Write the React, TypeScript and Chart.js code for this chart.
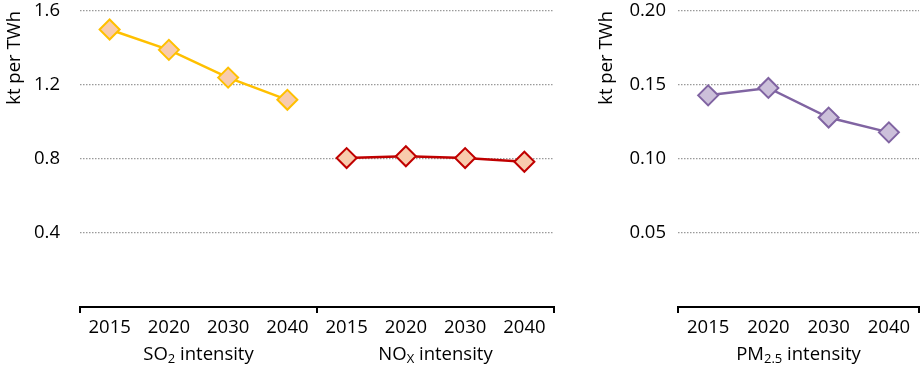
import { useEffect, useRef } from 'react';
import { Chart, registerables } from 'chart.js';

Chart.register(...registerables);

const YEARS = ['2015', '2020', '2030', '2040'];
const LEFT_LABELS = [...YEARS, ...YEARS];
const SO2 = [1.5, 1.39, 1.24, 1.12];
const NOX = [0.805, 0.815, 0.805, 0.785];
const PM25 = [0.143, 0.148, 0.128, 0.118];
const LEFT_MAX = 1.6;
const LEFT_STEP = 0.4;
const RIGHT_MAX = 0.2;
const RIGHT_STEP = 0.05;
const Y_TITLE = 'kt per TWh';
// group titles as [text, isSubscript] parts
const SO2_TITLE: [string, boolean][] = [['SO', false], ['2', true], [' intensity', false]];
const NOX_TITLE: [string, boolean][] = [['NO', false], ['X', true], [' intensity', false]];
const PM_TITLE: [string, boolean][] = [['PM', false], ['2.5', true], [' intensity', false]];

const FONT = 'Open Sans';
const FS = 18.5;

const groupTitlePlugin = {
  id: 'groupTitles',
  afterDraw(chart: any, _args: any, opts: any) {
    const groups = opts.groups || [];
    const x = chart.scales.x;
    const ctx = chart.ctx;
    ctx.save();
    ctx.fillStyle = '#000';
    ctx.textBaseline = 'alphabetic';
    const mainFont = `${FS}px "${FONT}"`;
    const subFont = `${Math.round(FS * 0.68)}px "${FONT}"`;
    for (const g of groups) {
      const cx = (x.getPixelForValue(g.start) + x.getPixelForValue(g.end)) / 2;
      let total = 0;
      for (const [t, sub] of g.parts) {
        ctx.font = sub ? subFont : mainFont;
        total += ctx.measureText(t).width;
      }
      let px = cx - total / 2;
      const baseY = chart.chartArea.bottom + opts.offset;
      for (const [t, sub] of g.parts) {
        ctx.font = sub ? subFont : mainFont;
        ctx.textAlign = 'left';
        ctx.fillText(t, px, baseY + (sub ? FS * 0.18 : 0));
        px += ctx.measureText(t).width;
      }
    }
    ctx.restore();
  },
};

function makeOptions(max: number, step: number, yWidth: number, titlePad: number, tickPad: number, padRight: number, groups: any[]) {
  return {
    responsive: false,
    animation: false as const,
    layout: { autoPadding: false, padding: { top: 11, right: padRight, bottom: 0, left: 0 } },
    plugins: {
      legend: { display: false },
      tooltip: { enabled: false },
      groupTitles: { groups, offset: 53 },
    },
    scales: {
      x: {
        type: 'category' as const,
        offset: true,
        afterFit(s: any) {
          s.height = 58;
          s.paddingLeft = 0;
          s.paddingRight = 0;
        },
        grid: {
          offset: true,
          drawOnChartArea: false,
          drawTicks: true,
          tickLength: 6,
          lineWidth: 2,
          color: (c: any) => (c.index === undefined || c.index % 4 === 0 ? '#000' : 'rgba(0,0,0,0)'),
        },
        border: { display: true, color: '#000', width: 2 },
        ticks: { color: '#000', font: { family: FONT, size: FS }, padding: 4, maxRotation: 0, autoSkip: false },
      },
      y: {
        min: 0,
        max,
        afterFit(s: any) {
          s.width = yWidth;
          s.paddingTop = 0;
          s.paddingBottom = 0;
        },
        grid: {
          drawTicks: false,
          lineWidth: 1.3,
          color: (c: any) => (c.tick && c.tick.value === 0 ? 'rgba(0,0,0,0)' : '#9a9a9a'),
        },
        border: { display: false, dash: [1.5, 1.5] },
        ticks: {
          stepSize: step,
          padding: tickPad,
          color: '#000',
          font: { family: FONT, size: FS },
          callback: (v: any) => (v === 0 ? '' : max < 1 ? Number(v).toFixed(2) : Number(v).toFixed(1)),
        },
        title: {
          display: true,
          text: Y_TITLE,
          align: 'end' as const,
          color: '#000',
          font: { family: FONT, size: FS },
          padding: { top: titlePad, bottom: 0 },
        },
      },
    },
  };
}

function ds(data: (number | null)[], line: string, fill: string) {
  return {
    data,
    borderColor: line,
    backgroundColor: fill,
    borderWidth: 2.5,
    pointStyle: 'rectRot' as const,
    pointRadius: 10,
    pointBorderWidth: 2,
    pointBackgroundColor: fill,
    pointBorderColor: line,
    spanGaps: false,
    tension: 0,
    clip: false as const,
  };
}

export default function App() {
  const leftRef = useRef<HTMLCanvasElement>(null);
  const rightRef = useRef<HTMLCanvasElement>(null);

  useEffect(() => {
    const left = new Chart(leftRef.current!, {
      type: 'line',
      data: {
        labels: LEFT_LABELS,
        datasets: [
          ds([...SO2, null, null, null, null], '#FFC000', '#F8CBAD'),
          ds([null, null, null, null, ...NOX], '#C00000', '#F8CBAD'),
        ],
      },
      options: makeOptions(LEFT_MAX, LEFT_STEP, 80, 4, 20, 6, [
        { start: 0, end: 3, parts: SO2_TITLE },
        { start: 4, end: 7, parts: NOX_TITLE },
      ]) as any,
      plugins: [groupTitlePlugin],
    });
    const right = new Chart(rightRef.current!, {
      type: 'line',
      data: {
        labels: YEARS,
        datasets: [ds(PM25, '#8064A2', '#CCC0DA')],
      },
      options: makeOptions(RIGHT_MAX, RIGHT_STEP, 83, 1, 12, 2, [
        { start: 0, end: 3, parts: PM_TITLE },
      ]) as any,
      plugins: [groupTitlePlugin],
    });
    return () => {
      left.destroy();
      right.destroy();
    };
  }, []);

  return (
    <div style={{ position: 'absolute', left: 0, top: 0, width: 921, height: 365, background: '#fff' }}>
      <canvas ref={leftRef} width={560} height={365} style={{ position: 'absolute', left: 0, top: 0 }} />
      <canvas ref={rightRef} width={326} height={365} style={{ position: 'absolute', left: 595, top: 0 }} />
    </div>
  );
}
